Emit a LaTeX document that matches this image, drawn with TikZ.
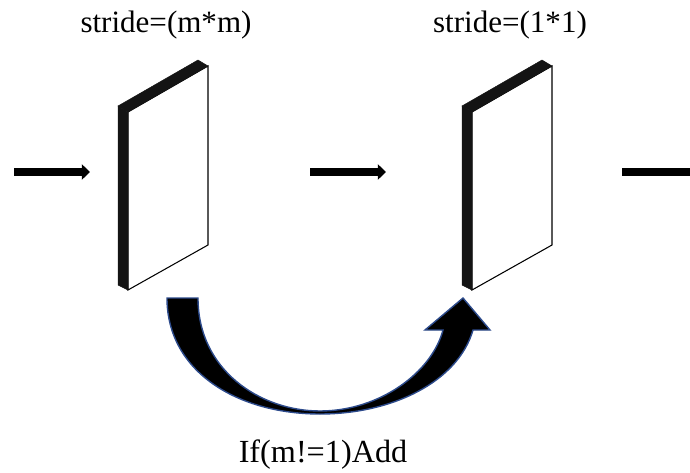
\documentclass[tikz,border=0pt]{standalone}
\usepackage{fontspec}
\setmainfont{Liberation Serif}
\usetikzlibrary{arrows.meta}
\definecolor{AddBlue}{RGB}{45,75,140}
\tikzset{
  face/.style={draw=black,fill=white,line width=0.9pt,line join=miter},
  rim/.style={fill=black!92,draw=black!92,line width=0.4pt},
  flow/.style={line width=7.6pt,-{Triangle[length=7pt,width=13pt]}},
  lbl/.style={font=\fontsize{26.5}{30}\selectfont,inner sep=0pt},
  addarrow/.style={fill=black,draw=AddBlue,line width=1.2pt,line join=miter},
}

\begin{document}
\begin{tikzpicture}[x=0.03cm,y=-0.03cm]
  \useasboundingbox (0,0) rectangle (690,473);
  % the two layers
  \foreach \dx/\nm in {0/p1,344/p2}{
    \begin{scope}[shift={(\dx,0)}]
      \coordinate (\nm-tl) at (128,112);
      \coordinate (\nm-tr) at (208,66);
      \coordinate (\nm-br) at (208,245);
      \coordinate (\nm-bl) at (128,290);
      \draw[face] (\nm-tl)--(\nm-tr)--(\nm-br)--(\nm-bl)--cycle;
      \draw[rim] (118,106)--(\nm-tl)--(\nm-bl)--(118,285)--cycle;
      \draw[rim] (118,106)--(198,60)--(\nm-tr)--(\nm-tl)--cycle;
    \end{scope}
  }
  \coordinate (in) at (14,172);
  \coordinate (p1-in) at (90,172);
  \coordinate (p1-out) at (310,172);
  \coordinate (p2-in) at (386,172);
  \coordinate (p2-out) at (622,172);
  \coordinate (out) at (690,172);
  \draw[flow] (in)--(p1-in);
  \draw[flow] (p1-out)--(p2-in);
  \draw[line width=7.6pt] (p2-out)--(out);
  % shortcut
  \draw[addarrow] (167,298)--(198,298)
    .. controls (198,370) and (260,411) .. (320,411)
    .. controls (380,411) and (432,372) .. (443,330)
    --(425,330)--(463,298)--(490,330)--(473,330)
    .. controls (458,382) and (392,414) .. (320,414)
    .. controls (238,414) and (167,372) .. (167,298)--cycle;
  \node[lbl] (s1) at (166,25) {stride=(m*m)};
  \node[lbl] (s2) at (510,25) {stride=(1*1)};
  \node[lbl,font=\fontsize{27.5}{30}\selectfont] (cond) at (323,455) {If(m!=1)Add};
\end{tikzpicture}
\end{document}
